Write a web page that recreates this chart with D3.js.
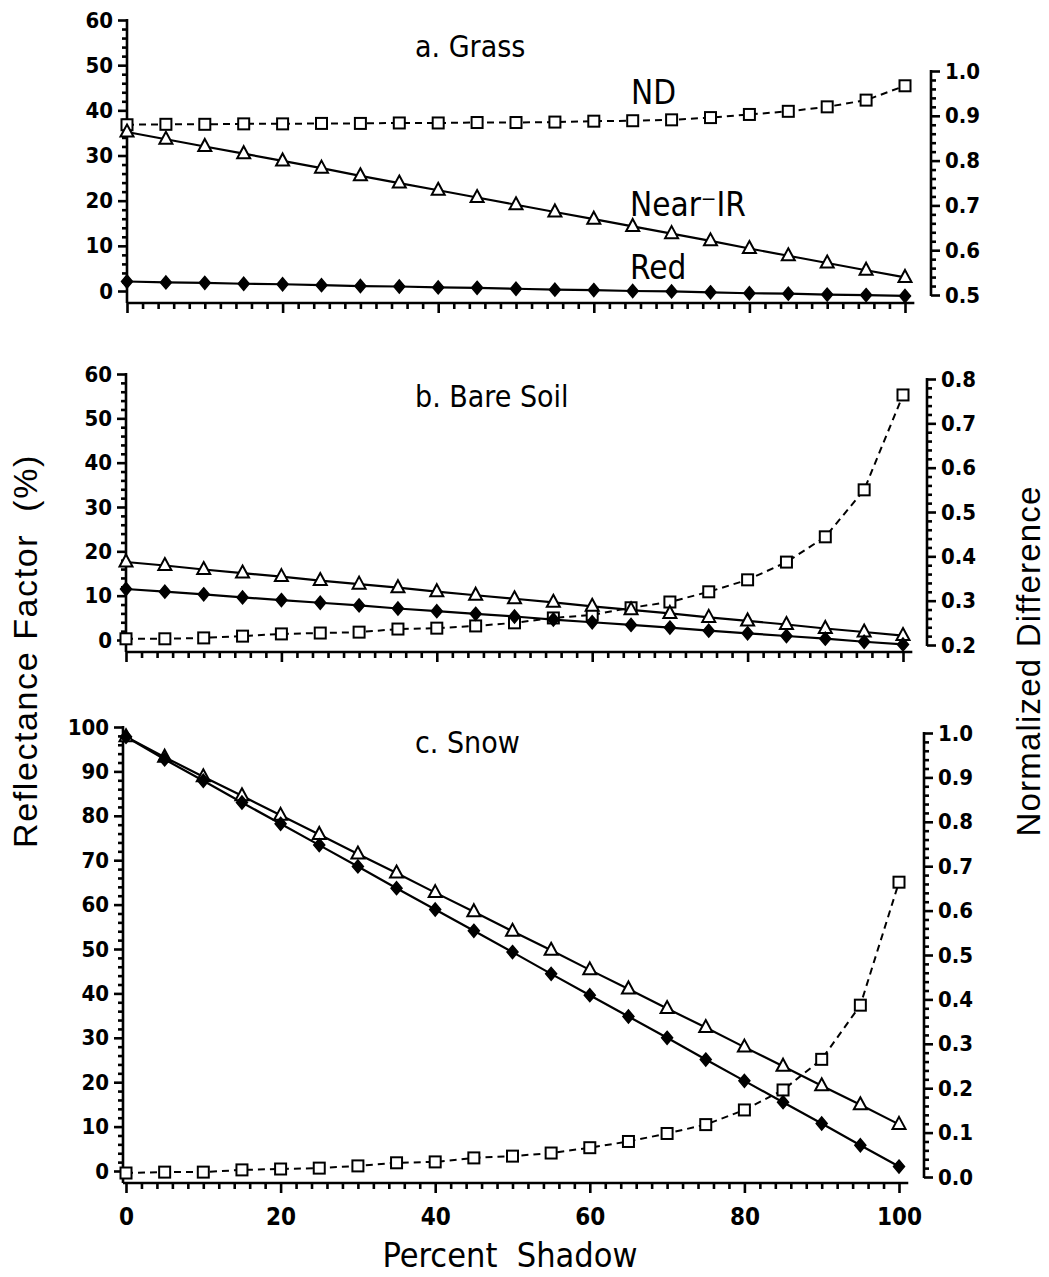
<!DOCTYPE html>
<html><head><meta charset="utf-8">
<script src="https://cdn.jsdelivr.net/npm/d3@7"></script>
<style>
body{margin:0;background:#fff}
text{fill:#000}
.tk text{font-family:'DejaVu Sans Condensed','DejaVu Sans',sans-serif;font-weight:bold;font-size:22px}
</style>
</head><body>
<svg id="chart" width="1049" height="1277"></svg>
<script>
// ---- data ----
const shadow = [0,5,10,15,20,25,30,35,40,45,50,55,60,65,70,75,80,85,90,95,100];

const grassNIR = [35.2,33.6,32.0,30.4,28.8,27.2,25.5,23.9,22.3,20.7,19.1,17.5,15.9,14.3,12.7,11.1,9.4,7.8,6.2,4.6,3.0];
const grassRed = [2.1,1.9,1.8,1.6,1.5,1.3,1.1,1.0,0.8,0.7,0.5,0.3,0.2,0.0,-0.1,-0.3,-0.5,-0.6,-0.8,-0.9,-1.1];
const grassND  = [0.880,0.881,0.881,0.882,0.882,0.883,0.883,0.884,0.884,0.885,0.885,0.886,0.888,0.889,0.891,0.896,0.903,0.910,0.920,0.935,0.967];

const soilNIR = [17.6,16.8,15.9,15.1,14.3,13.4,12.6,11.8,10.9,10.1,9.3,8.5,7.6,6.8,6.0,5.1,4.3,3.5,2.6,1.8,1.0];
const soilRed = [11.5,10.9,10.3,9.6,9.0,8.4,7.8,7.1,6.5,5.9,5.3,4.6,4.0,3.4,2.8,2.1,1.5,0.9,0.3,-0.4,-1.0];
const soilND  = [0.214,0.214,0.216,0.220,0.225,0.227,0.229,0.236,0.238,0.243,0.250,0.261,0.268,0.284,0.297,0.320,0.347,0.387,0.444,0.550,0.764];

const snowNIR = [97.8,93.2,88.8,84.5,80.1,75.8,71.4,67.1,62.7,58.4,54.0,49.7,45.3,41.0,36.6,32.3,27.9,23.6,19.2,14.9,10.5];
const snowRed = [97.8,92.7,87.9,83.0,78.2,73.4,68.6,63.7,58.9,54.1,49.3,44.4,39.6,34.8,30.0,25.1,20.3,15.5,10.7,5.8,1.0];
const snowND  = [0.009,0.011,0.011,0.016,0.018,0.020,0.025,0.032,0.034,0.043,0.047,0.054,0.066,0.080,0.098,0.118,0.151,0.196,0.265,0.387,0.664];

// ---- tick labels ----
const xTicks = [0,20,40,60,80,100];
const grassLeftTicks = [0,10,20,30,40,50,60];
const grassRightTicks = [0.5,0.6,0.7,0.8,0.9,1.0];
const soilLeftTicks = [0,10,20,30,40,50,60];
const soilRightTicks = [0.2,0.3,0.4,0.5,0.6,0.7,0.8];
const snowLeftTicks = [0,10,20,30,40,50,60,70,80,90,100];
const snowRightTicks = [0.0,0.1,0.2,0.3,0.4,0.5,0.6,0.7,0.8,0.9,1.0];

const panelTitles = ["a. Grass","b. Bare Soil","c. Snow"];
const xTitle = "Percent  Shadow";
const yLeftTitle = "Reflectance Factor  (%)";
const yRightTitle = "Normalized Difference";

// ---- layout ----
const svg = d3.select("#chart");
const FONT = "'DejaVu Sans Condensed','DejaVu Sans',sans-serif";
const AX = 2.6;

const panels = [
  {title:panelTitles[0], nir:grassNIR, red:grassRed, nd:grassND, lt:grassLeftTicks, rt:grassRightTicks,
   xr:[127,905], lx:127, rx:931, ly:[291,20], ry:[295,71], base:303, showX:false, ty:57},
  {title:panelTitles[1], nir:soilNIR, red:soilRed, nd:soilND, lt:soilLeftTicks, rt:soilRightTicks,
   xr:[126,903], lx:126, rx:927, ly:[640,374], ry:[645,379], base:652, showX:false, ty:407},
  {title:panelTitles[2], nir:snowNIR, red:snowRed, nd:snowND, lt:snowLeftTicks, rt:snowRightTicks,
   xr:[126,899], lx:123, rx:924, ly:[1171,727], ry:[1177,733], base:1183, showX:true, ty:753}
];

function styleAxis(g){
  g.select(".domain").remove();
  g.selectAll("line").attr("stroke","#000").attr("stroke-width",AX);
  g.attr("class","tk");
}

panels.forEach(p=>{
  const g = svg.append("g");
  const x = d3.scaleLinear().domain([0,100]).range(p.xr);
  const lMax = d3.max(p.lt);
  const yL = d3.scaleLinear().domain([0,lMax]).range(p.ly);
  const yR = d3.scaleLinear().domain([d3.min(p.rt), d3.max(p.rt)]).range(p.ry);

  // left axis
  g.append("line").attr("x1",p.lx).attr("x2",p.lx).attr("y1",yL(lMax)-1).attr("y2",p.base)
    .attr("stroke","#000").attr("stroke-width",AX);
  const lMinor = d3.range(0,lMax+0.001,2).filter(v=>v%10!==0);
  g.append("g").attr("transform",`translate(${p.lx},0)`)
    .call(d3.axisLeft(yL).tickValues(lMinor).tickSize(5).tickFormat(""))
    .call(styleAxis);
  g.append("g").attr("transform",`translate(${p.lx},0)`)
    .call(d3.axisLeft(yL).tickValues(p.lt).tickSize(9).tickPadding(5).tickFormat(d3.format("d")))
    .call(styleAxis);

  // right axis
  const r0 = d3.min(p.rt), r1 = d3.max(p.rt);
  g.append("line").attr("x1",p.rx).attr("x2",p.rx).attr("y1",yR(r1)-1).attr("y2",yR(r0)+1)
    .attr("stroke","#000").attr("stroke-width",AX);
  const rMinor = d3.range(Math.round(r0*100), Math.round(r1*100)+1, 2)
      .filter(v=>v%10!==0).map(v=>v/100);
  g.append("g").attr("transform",`translate(${p.rx},0)`)
    .call(d3.axisRight(yR).tickValues(rMinor).tickSize(5).tickFormat(""))
    .call(styleAxis);
  g.append("g").attr("transform",`translate(${p.rx},0)`)
    .call(d3.axisRight(yR).tickValues(p.rt).tickSize(9).tickPadding(5).tickFormat(d3.format(".1f")))
    .call(styleAxis);

  // x axis
  g.append("line").attr("x1",p.lx).attr("x2",x(101.2)).attr("y1",p.base).attr("y2",p.base)
    .attr("stroke","#000").attr("stroke-width",AX);
  const xMinor = d3.range(0,101,2).filter(v=>v%20!==0);
  g.append("g").attr("transform",`translate(0,${p.base})`)
    .call(d3.axisBottom(x).tickValues(xMinor).tickSize(6).tickFormat(""))
    .call(styleAxis);
  const xa = g.append("g").attr("transform",`translate(0,${p.base})`)
    .call(d3.axisBottom(x).tickValues(xTicks).tickSize(10).tickPadding(15)
      .tickFormat(p.showX ? d3.format("d") : ""))
    .call(styleAxis);
  xa.selectAll("text").style("font-size","24px");

  // series lines
  const lineL = arr => d3.line().x((d,i)=>x(shadow[i])).y(d=>yL(d))(arr);
  const lineR = arr => d3.line().x((d,i)=>x(shadow[i])).y(d=>yR(d))(arr);
  g.append("path").attr("d",lineR(p.nd)).attr("fill","none").attr("stroke","#000")
    .attr("stroke-width",2).attr("stroke-dasharray","7,5");
  g.append("path").attr("d",lineL(p.nir)).attr("fill","none").attr("stroke","#000").attr("stroke-width",2.2);
  g.append("path").attr("d",lineL(p.red)).attr("fill","none").attr("stroke","#000").attr("stroke-width",2.2);

  // markers
  g.selectAll(null).data(p.nd).join("rect")
    .attr("x",(d,i)=>x(shadow[i])-5.5).attr("y",d=>yR(d)-5.5).attr("width",11).attr("height",11)
    .attr("fill","#fff").attr("stroke","#000").attr("stroke-width",2);
  g.selectAll(null).data(p.nir).join("path")
    .attr("d","M0,-7.5L6.5,4.5L-6.5,4.5Z")
    .attr("transform",(d,i)=>`translate(${x(shadow[i])},${yL(d)})`)
    .attr("fill","#fff").attr("stroke","#000").attr("stroke-width",2);
  g.selectAll(null).data(p.red).join("path")
    .attr("d","M0,-6.5L5.5,0L0,6.5L-5.5,0Z")
    .attr("transform",(d,i)=>`translate(${x(shadow[i])},${yL(d)})`)
    .attr("fill","#000").attr("stroke","#000").attr("stroke-width",1.5);

  // panel title
  g.append("text").attr("x",415).attr("y",p.ty).text(p.title)
    .style("font-family",FONT).style("font-size","30px").style("white-space","pre");
});

// annotations in panel a
const ann = [{t:"ND",x:631,y:104},{t:"Near\u207BIR",x:630,y:216},{t:"Red",x:630,y:279}];
svg.selectAll(null).data(ann).join("text")
  .attr("x",d=>d.x).attr("y",d=>d.y).text(d=>d.t)
  .style("font-family",FONT).style("font-size","33px");

// axis titles
svg.append("text").attr("x",510).attr("y",1267).attr("text-anchor","middle").text(xTitle)
  .style("font-family",FONT).style("font-size","34px").style("white-space","pre");
svg.append("text").attr("transform","translate(37,651) rotate(-90)").attr("text-anchor","middle")
  .text(yLeftTitle).style("font-family","'Liberation Sans',Arial,sans-serif").style("font-size","34px")
  .style("letter-spacing","1.6px").style("white-space","pre");
svg.append("text").attr("transform","translate(1040,661) rotate(-90)").attr("text-anchor","middle")
  .text(yRightTitle).style("font-family","'Liberation Sans',Arial,sans-serif").style("font-size","33px")
  .style("letter-spacing","1.2px").style("white-space","pre");
</script>
</body></html>
